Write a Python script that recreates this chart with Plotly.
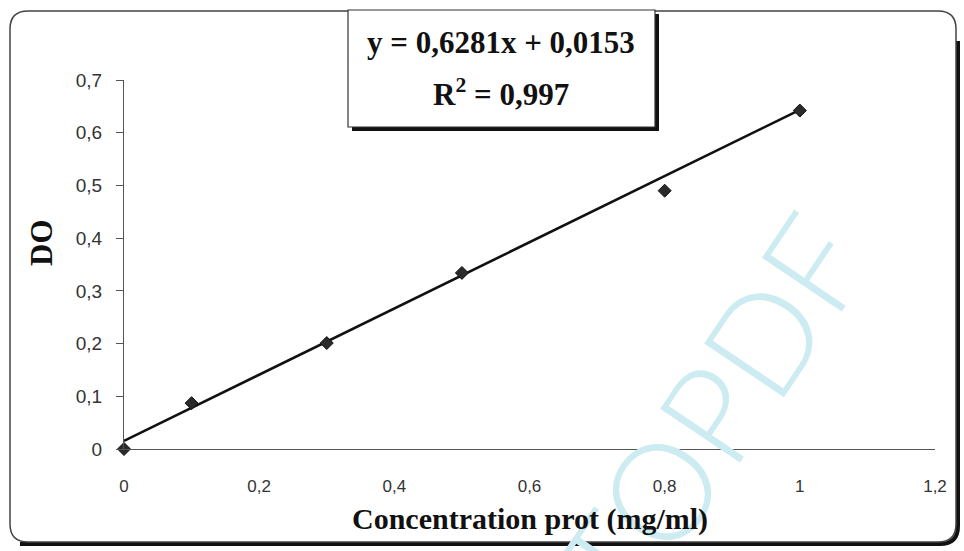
import plotly.graph_objects as go

# Data
conc = [0, 0.1, 0.3, 0.5, 0.8, 1.0]
do_vals = [0.0, 0.087, 0.201, 0.334, 0.49, 0.642]
slope = 0.6281
intercept = 0.0153
fit_x = [0, 1.0]
fit_y = [intercept + slope * v for v in fit_x]
x_ticks = [0, 0.2, 0.4, 0.6, 0.8, 1.0, 1.2]
y_ticks = [0, 0.1, 0.2, 0.3, 0.4, 0.5, 0.6, 0.7]

L, R, T, B = 124, 29, 80, 102
W, H = 964, 551
PW, PH = W - L - R, H - T - B


def px(X):
    return (X - L) / PW


def py(Y):
    return (H - B - Y) / PH


fig = go.Figure()
fig.add_trace(go.Scatter(x=fit_x, y=fit_y, mode="lines",
                         line=dict(color="#111", width=2.6), hoverinfo="skip"))
fig.add_trace(go.Scatter(x=conc, y=do_vals, mode="markers", cliponaxis=False,
                         marker=dict(symbol="diamond", size=10, color="#2a2a2a",
                                     line=dict(color="#111", width=1))))

shapes = []
r = 18
x0, y0, x1, y1 = 10, 11, 956, 542
shapes.append(dict(type="path", xref="paper", yref="paper", layer="below",
                   path=(f"M {px(x1+2)},{py(y0+30)} L {px(x1+2)},{py(y1+2-r)} "
                         f"Q {px(x1+2)},{py(y1+2)} {px(x1+2-r)},{py(y1+2)} "
                         f"L {px(x0+10)},{py(y1+2)}"),
                   line=dict(color="#111", width=4)))
shapes.append(dict(type="path", xref="paper", yref="paper", layer="below",
                   path=(f"M {px(x0+r)},{py(y0)} L {px(x1-r)},{py(y0)} "
                         f"Q {px(x1)},{py(y0)} {px(x1)},{py(y0+r)} "
                         f"L {px(x1)},{py(y1-r)} Q {px(x1)},{py(y1)} {px(x1-r)},{py(y1)} "
                         f"L {px(x0+r)},{py(y1)} Q {px(x0)},{py(y1)} {px(x0)},{py(y1-r)} "
                         f"L {px(x0)},{py(y0+r)} Q {px(x0)},{py(y0)} {px(x0+r)},{py(y0)} Z"),
                   line=dict(color="#444", width=1.5)))
shapes.append(dict(type="rect", xref="paper", yref="paper",
                   x0=px(352), x1=px(659), y0=py(131), y1=py(14),
                   fillcolor="#111", line=dict(width=0)))
shapes.append(dict(type="rect", xref="paper", yref="paper",
                   x0=px(348), x1=px(655), y0=py(127), y1=py(10),
                   fillcolor="white", line=dict(color="#333", width=1.2)))

wm_font = dict(family="Lato, Liberation Sans", size=136, color="#cdecf2", weight=300)

annotations = [
    dict(text="TOPDF", x=px(710), y=py(412), xref="paper", yref="paper",
         showarrow=False, textangle=-56, xanchor="center", yanchor="middle",
         font=wm_font),
    dict(text="<b>y = 0,6281x + 0,0153</b>", x=px(501), y=py(42), xref="paper", yref="paper",
         showarrow=False, font=dict(family="Liberation Serif", size=31, color="#111"),
         xanchor="center", yanchor="middle"),
    dict(text="<b>R<sup>2</sup> = 0,997</b>", x=px(501), y=py(93), xref="paper", yref="paper",
         showarrow=False, font=dict(family="Liberation Serif", size=31, color="#111"),
         xanchor="center", yanchor="middle"),
    dict(text="<b>Concentration prot (mg/ml)</b>", x=px(530), y=py(519),
         xref="paper", yref="paper", showarrow=False,
         font=dict(family="Liberation Serif", size=30, color="#111"),
         xanchor="center", yanchor="middle"),
    dict(text="<b>DO</b>", x=px(42), y=py(243), xref="paper", yref="paper",
         showarrow=False, textangle=-90,
         font=dict(family="Liberation Serif", size=31, color="#111"),
         xanchor="center", yanchor="middle"),
]

fig.update_layout(
    width=W, height=H, margin=dict(l=L, r=R, t=T, b=B),
    paper_bgcolor="white", plot_bgcolor="rgba(0,0,0,0)",
    showlegend=False, separators=", ",
    shapes=shapes, annotations=annotations,
    xaxis=dict(range=[0, 1.2], tickvals=x_ticks, tickformat="~g",
               showgrid=False, zeroline=False, showline=True,
               linecolor="#555", linewidth=1, ticks="", ticklabelstandoff=22,
               tickfont=dict(family="Liberation Sans", size=17, color="#333")),
    yaxis=dict(range=[0, 0.7], tickvals=y_ticks, tickformat="~g",
               showgrid=False, zeroline=False, showline=True,
               linecolor="#555", linewidth=1, ticks="outside", ticklen=7,
               tickcolor="#555", ticklabelstandoff=10,
               tickfont=dict(family="Liberation Sans", size=19, color="#333")),
)

fig.write_html("out.html")
